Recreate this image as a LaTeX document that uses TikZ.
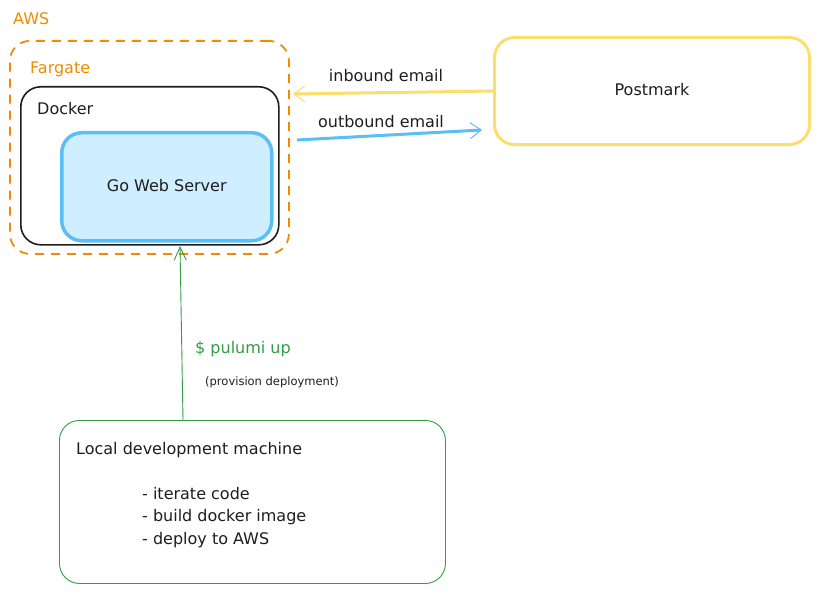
\documentclass[tikz,border=0pt]{standalone}
\usepackage{fontspec}
\setmainfont{DejaVu Sans}
\usetikzlibrary{arrows.meta,calc}
\definecolor{awsorange}{HTML}{F08C00}
\definecolor{goblue}{HTML}{5BBEF7}
\definecolor{gofill}{HTML}{CFEEFF}
\definecolor{pmyellow}{HTML}{FBDF6E}
\definecolor{devgreen}{HTML}{2F9E44}
\definecolor{ink}{HTML}{1E1E1E}
\tikzset{
  box/.style={rectangle, rounded corners=20bp, inner sep=0pt, anchor=north west},
  lbl/.style={inner sep=0pt, anchor=west, text=ink, font=\fontsize{16bp}{19bp}\selectfont},
  small/.style={inner sep=0pt, anchor=west, text=ink, font=\fontsize{11.5bp}{14bp}\selectfont},
  tip/.style={-{Straight Barb[length=11bp,width=16bp,line width=1pt]}},
}
\begin{document}
\begin{tikzpicture}[x=1bp,y=-1bp]
\useasboundingbox[fill=white] (0,0) rectangle (816,592);
% AWS / Fargate
\node[lbl, text=awsorange] (aws) at (13,19) {AWS};
\node[box, draw=awsorange, line width=1.8bp, dash pattern=on 9bp off 7bp,
      minimum width=279bp, minimum height=213bp] (fargate) at (9,40) {};
\node[lbl, text=awsorange] (fargatelbl) at (30,69) {Fargate};
% Docker
\node[box, draw=ink, line width=1.6bp, minimum width=258bp, minimum height=158bp] (docker) at (20,86) {};
\node[lbl] (dockerlbl) at (37,109) {Docker};
% Go Web Server
\node[box, draw=goblue, fill=gofill, line width=3.5bp, minimum width=210bp, minimum height=108bp] (go) at (60,131) {};
\node[lbl, anchor=center] (golbl) at ($(go.center)+(0,-1)$) {Go Web Server};
% Postmark
\node[box, draw=pmyellow, line width=3bp, minimum width=315bp, minimum height=107bp] (postmark) at (493,36) {};
\node[lbl, anchor=center] (pmlbl) at ($(postmark.center)+(0,-1.5)$) {Postmark};
% email arrows
\coordinate (inEnd) at (293,94);
\coordinate (outStart) at (297,140);
\coordinate (outEnd) at (482,130);
\draw[tip, draw=pmyellow, line width=3bp] (postmark.west) -- (inEnd);
\node[lbl, anchor=center] (inlbl) at (386,76) {inbound email};
\draw[tip, draw=goblue, line width=3bp] (outStart) -- (outEnd);
\node[lbl, anchor=center] (outlbl) at (381,122) {outbound email};
% Local development machine
\node[box, draw=devgreen, line width=0.9bp, minimum width=386bp, minimum height=163bp] (local) at (59,420) {};
\node[lbl] (locallbl) at (76,450) {Local development machine};
\node[lbl] (b1) at (142,494) {- iterate code};
\node[lbl] (b2) at (142,517) {- build docker image};
\node[lbl] (b3) at (142,540) {- deploy to AWS};
% pulumi arrow
\coordinate (pulStart) at ($(local.north west)+(124,0)$);
\coordinate (pulEnd) at (180,246);
\draw[-{Straight Barb[length=13bp,width=12bp]}, draw=devgreen, line width=0.9bp] (pulStart) -- (pulEnd);
\node[lbl, text=devgreen] (pullbl) at (195,349) {\$ pulumi up};
\node[small] (provlbl) at (205,382) {(provision deployment)};
\end{tikzpicture}
\end{document}
